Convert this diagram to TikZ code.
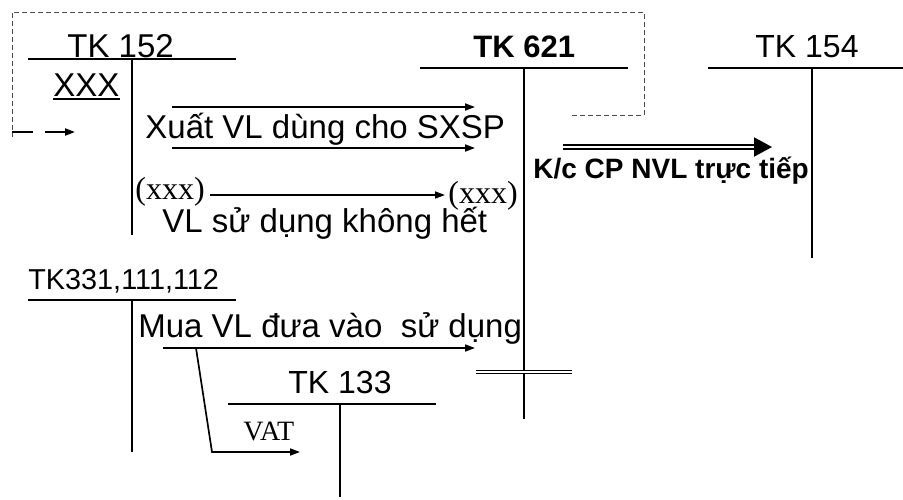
\documentclass[tikz,border=0pt]{standalone}
\usepackage{fontspec}
\setmainfont{Liberation Sans}
\newfontfamily\timesfont{Liberation Serif}
\usetikzlibrary{arrows.meta}

\begin{document}
\begin{tikzpicture}[x=0.5pt, y=-0.5pt,
  lbl/.style={inner sep=0pt, anchor=base west, font=\fontsize{16.5}{18}\selectfont},
  tlbl/.style={inner sep=0pt, anchor=base west, font=\timesfont\fontsize{16}{18}\selectfont},
  tline/.style={line width=1.25pt},
  flow/.style={line width=0.85pt, -{Triangle[length=5pt,width=3.5pt]}}]
\useasboundingbox (0,0) rectangle (903,499);
% account headings
\node[lbl] at(67,57)(tk152){TK 152};
\node[lbl, font=\bfseries\fontsize{15.5}{18}\selectfont] at(473,57)(tk621){TK 621};
\node[lbl, font=\fontsize{16}{18}\selectfont] at(755,57)(tk154){TK 154};
\node[lbl, font=\fontsize{14.4}{16}\selectfont] at(28,289)(tk331){TK331,111,112};
\node[lbl, font=\fontsize{16}{18}\selectfont] at(288,393)(tk133){TK 133};
% T accounts
\draw[tline] (28,59) -- (236,59) (132,59) -- (132,235);
\draw[tline] (420,68) -- (628,68) (524,68) -- (524,419);
\draw[tline] (708,68) -- (903,68) (812,68) -- (812,258);
\draw[tline] (28,300) -- (236,300) (132,300) -- (132,452);
\draw[tline] (228,404) -- (436,404) (340,404) -- (340,497);
% texts
\node[lbl] at(53,96)(xxx){XXX};
\draw[line width=0.8pt] ([yshift=-1.5pt]xxx.base west) -- ([yshift=-1.5pt]xxx.base east);
\node[lbl] at(145,138)(xuat){Xuất VL dùng cho SXSP};
\node[tlbl] at(135,199)(xxxa){(xxx)};
\node[tlbl] at(448,203)(xxxb){(xxx)};
\node[lbl] at(162,232)(thua){VL sử dụng không hết};
\node[lbl, font=\bfseries\fontsize{14}{16}\selectfont] at(533,178)(kc){K/c CP NVL trực tiếp};
\node[lbl] at(138,337)(mua){Mua VL đưa vào\ \ sử dụng};
\node[tlbl, font=\timesfont\fontsize{14}{16}\selectfont] at(243,440)(vat){VAT};
% arrow ends
\coordinate (x1a) at (172,107);
\coordinate (x1b) at (475,107);
\coordinate (x2a) at (172,148);
\coordinate (x2b) at (475,148);
\coordinate (ua) at (210,195);
\coordinate (ub) at (445,195);
\coordinate (kca) at (563,147);
\coordinate (kcb) at (772,147);
\coordinate (muaa) at (163,348);
\coordinate (muab) at (475,348);
\coordinate (fork) at (196,348);
\coordinate (bend) at (212,452);
\coordinate (vatb) at (300,452);
\coordinate (dsh) at (12,132);
\coordinate (dshb) at (75,132);
% flows
\draw[flow] (x1a) -- (x1b);
\draw[flow] (x2a) -- (x2b);
\draw[flow] (ua) -- (ub);
\draw[flow] (muaa) -- (muab);
\draw[flow] (fork) -- (bend) -- (vatb);
\draw[line width=1pt, double, double distance=0.9pt,
  -{Triangle[length=9pt,width=9.5pt]}] (kca) -- (kcb);
\draw[line width=0.6pt, double, double distance=1pt] (476,372) -- (572,372);
% dashed loop
\draw[black!70, line width=0.5pt, dash pattern=on 2.5pt off 1.5pt]
  (572,115) -- (644,115) -- (644,12) -- (12,12) -- (12,137);
\draw[line width=1pt, dash pattern=on 10.5pt off 6pt,
  -{Triangle[length=5pt,width=3.5pt]}] (dsh) -- (dshb);
\end{tikzpicture}
\end{document}
